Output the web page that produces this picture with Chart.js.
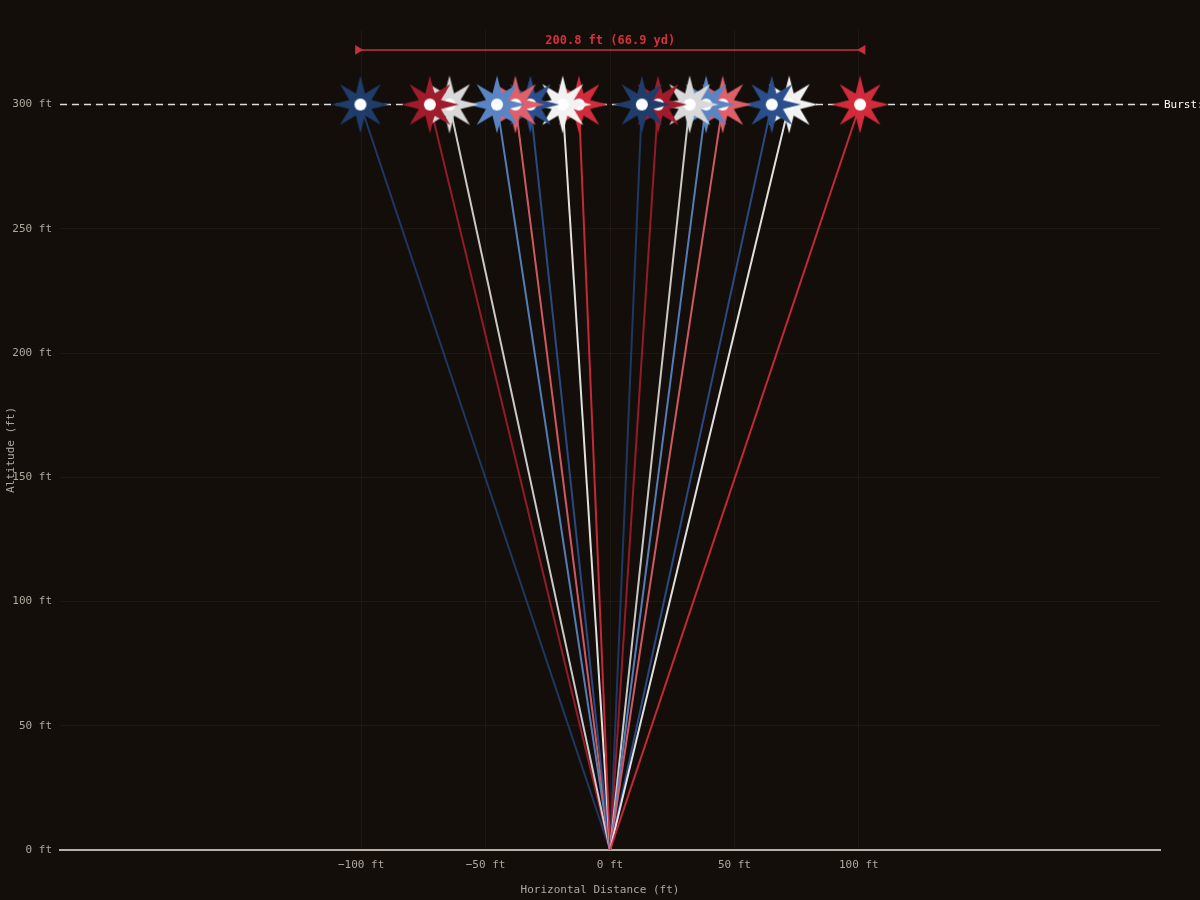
<!DOCTYPE html>
<html>
<head>
<meta charset="utf-8">
<script src="https://cdn.jsdelivr.net/npm/chart.js@4.4.1/dist/chart.umd.min.js"></script>
<style>
  html, body { margin: 0; padding: 0; background: #130e0a; }
  #wrap { width: 1200px; height: 900px; }
</style>
</head>
<body>
<div id="wrap"><canvas id="burst_chart" width="1200" height="900"></canvas></div>
<script>
// firework bursts, listed right to left (left ones end up drawn on top)
const burstX = [100.5, 72, 65, 45.3, 38.6, 32, 19.3, 12.8, -12.5, -19, -32, -38, -45.4, -64.5, -72.4, -100.3];
const burstAltitude = [300, 300, 300, 300, 300, 300, 300, 300, 300, 300, 300, 300, 300, 300, 300, 300];
const burstColors = [
  "#d22b3b", "#f2f2f2", "#2b4f8c", "#e0606a", "#5a85c4", "#d9d9d9", "#a01c2c", "#1f3c6b",
  "#d22b3b", "#f2f2f2", "#2b4f8c", "#e0606a", "#5a85c4", "#d9d9d9", "#a01c2c", "#1f3c6b",
];
const launchX = 0;
const launchAltitude = 0;

const xTickValues = [-100, -50, 0, 50, 100];
const yTickValues = [0, 50, 100, 150, 200, 250, 300];
const xRange = [-221, 221];
const yRange = [0, 330];
const spreadAltitude = 322;

const FONT = "'DejaVu Sans Mono', monospace";
const TEXT_COLOR = "#b0a89f";

const minBurst = Math.min(...burstX);
const maxBurst = Math.max(...burstX);
const spread = maxBurst - minBurst;
const spreadLabel = `${spread.toFixed(1)} ft (${(spread / 3).toFixed(1)} yd)`;

// filled 8 point star with a white core
const makeStar = (color) => {
  const c = document.createElement("canvas");
  c.width = 64;
  c.height = 64;
  const ctx = c.getContext("2d");
  const outer = 29;
  const inner = 12;
  ctx.beginPath();
  for (let i = 0; i < 16; i++) {
    const r = i % 2 === 0 ? outer : inner;
    const a = (Math.PI / 8) * i - Math.PI / 2;
    const px = 32 + Math.cos(a) * r;
    const py = 32 + Math.sin(a) * r;
    if (i === 0) ctx.moveTo(px, py);
    else ctx.lineTo(px, py);
  }
  ctx.closePath();
  ctx.fillStyle = color;
  ctx.fill();
  ctx.beginPath();
  ctx.arc(32, 32, 6, 0, Math.PI * 2);
  ctx.fillStyle = "#ffffff";
  ctx.fill();
  return c;
};

const withAlpha = (hex, a) => {
  const n = parseInt(hex.slice(1), 16);
  return `rgba(${(n >> 16) & 255}, ${(n >> 8) & 255}, ${n & 255}, ${a})`;
};

const trajectorySets = burstX.map((x, i) => ({
  data: [
    { x: launchX, y: launchAltitude },
    { x: x, y: burstAltitude[i] },
  ],
  showLine: true,
  borderColor: withAlpha(burstColors[i], 0.92),
  borderWidth: 2,
  pointRadius: 0,
  order: 3,
}));

const starSet = {
  data: burstX.map((x, i) => ({ x: x, y: burstAltitude[i] })),
  showLine: false,
  pointStyle: burstColors.map(makeStar),
  pointRadius: 29,
  order: 0,
};

const burstLineSet = {
  data: [
    { x: xRange[0], y: burstAltitude[0] },
    { x: xRange[1], y: burstAltitude[0] },
  ],
  showLine: true,
  borderColor: "rgba(255, 255, 255, 0.85)",
  borderWidth: 1.5,
  borderDash: [7, 5],
  pointRadius: 0,
  order: 2,
};

const spreadSet = {
  data: [
    { x: minBurst - 1, y: spreadAltitude },
    { x: maxBurst + 1, y: spreadAltitude },
  ],
  showLine: true,
  borderColor: "#c92f3c",
  borderWidth: 1.5,
  pointStyle: "triangle",
  rotation: [90, -90],
  pointRadius: 4,
  pointBackgroundColor: "#c92f3c",
  pointBorderColor: "#c92f3c",
  order: 1,
};

const textPlugin = {
  id: "burstText",
  afterDraw(chart) {
    const { ctx, chartArea, scales } = chart;
    ctx.save();
    ctx.textBaseline = "middle";

    // spread label
    ctx.font = `bold 12px ${FONT}`;
    ctx.fillStyle = "#d3313e";
    ctx.textAlign = "center";
    ctx.fillText(
      spreadLabel,
      scales.x.getPixelForValue((minBurst + maxBurst) / 2),
      scales.y.getPixelForValue(spreadAltitude) - 9
    );

    // burst altitude label (runs off the canvas)
    ctx.font = `11px ${FONT}`;
    ctx.fillStyle = "#ffffff";
    ctx.textAlign = "left";
    ctx.fillText(
      `Burst: ${burstAltitude[0]} ft`,
      chartArea.right + 4,
      scales.y.getPixelForValue(burstAltitude[0]) + 1
    );

    // axis titles
    ctx.fillStyle = TEXT_COLOR;
    ctx.textAlign = "center";
    ctx.fillText("Horizontal Distance (ft)", chart.width / 2, 890);
    ctx.translate(11, 450);
    ctx.rotate(-Math.PI / 2);
    ctx.fillText("Altitude (ft)", 0, 0);
    ctx.restore();
  },
};

new Chart(document.getElementById("burst_chart"), {
  type: "scatter",
  data: {
    datasets: [starSet, spreadSet, burstLineSet, ...trajectorySets],
  },
  plugins: [textPlugin],
  options: {
    responsive: false,
    animation: false,
    layout: {
      autoPadding: false,
      padding: { top: 30, right: 40, left: 0, bottom: 0 },
    },
    scales: {
      x: {
        type: "linear",
        min: xRange[0],
        max: xRange[1],
        afterBuildTicks: (scale) => {
          scale.ticks = xTickValues.map((v) => ({ value: v }));
        },
        afterFit: (scale) => {
          scale.height = 50;
        },
        ticks: {
          color: TEXT_COLOR,
          padding: 9,
          maxRotation: 0,
          font: { family: FONT, size: 11 },
          callback: (v) => (v < 0 ? "\u2212" + Math.abs(v) : v) + " ft",
        },
        grid: {
          color: "rgba(255, 255, 255, 0.045)",
          drawTicks: false,
        },
        border: {
          display: true,
          color: "#b8b0a8",
          width: 2,
        },
      },
      y: {
        type: "linear",
        min: yRange[0],
        max: yRange[1],
        afterBuildTicks: (scale) => {
          scale.ticks = yTickValues.map((v) => ({ value: v }));
        },
        afterFit: (scale) => {
          scale.width = 60;
        },
        ticks: {
          color: TEXT_COLOR,
          padding: 8,
          font: { family: FONT, size: 11 },
          callback: (v) => v + " ft",
        },
        grid: {
          color: "rgba(255, 255, 255, 0.045)",
          drawTicks: false,
        },
        border: { display: false },
      },
    },
    plugins: {
      legend: { display: false },
      tooltip: { enabled: false },
    },
  },
});
</script>
</body>
</html>
